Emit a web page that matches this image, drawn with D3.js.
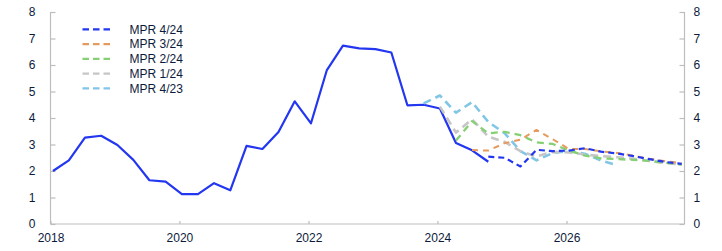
<!DOCTYPE html>
<html>
<head>
<meta charset="utf-8">
<script src="https://cdn.jsdelivr.net/npm/d3@7"></script>
<style>
  html, body { margin: 0; padding: 0; background: #fff; }
  svg { display: block; font-family: "Liberation Sans", Arial, sans-serif; }
</style>
</head>
<body>
<svg id="chart" width="722" height="251"></svg>
<script>
// ---- data ----
const actualStart = "2018Q1";
const actualValues = [
  2.0, 2.4, 3.26, 3.33,
  2.98, 2.42, 1.65, 1.6,
  1.13, 1.13, 1.54, 1.27,
  2.95, 2.83, 3.47, 4.63,
  3.8, 5.81, 6.73, 6.63,
  6.6, 6.47, 4.48, 4.5,
  4.36, 3.06, 2.78, 2.35
];
const mpr423Start = "2023Q4";
const mpr423Values = [4.55, 4.85, 4.2, 4.6, 3.85, 3.43, 2.75, 2.4, 2.68, 2.75, 2.65, 2.4, 2.22];
const mpr124Start = "2024Q1";
const mpr124Values = [4.43, 3.45, 3.95, 3.3, 3.1, 2.75, 2.55, 2.72, 2.7, 2.62, 2.56, 2.52, 2.46, 2.38, 2.3, 2.24];
const mpr224Start = "2024Q2";
const mpr224Values = [3.15, 3.88, 3.42, 3.48, 3.35, 3.08, 3.02, 2.77, 2.58, 2.48, 2.45, 2.42, 2.38, 2.31, 2.24];
const mpr324Start = "2024Q3";
const mpr324Values = [2.79, 2.77, 3.05, 3.18, 3.55, 3.2, 2.83, 2.83, 2.74, 2.68, 2.58, 2.46, 2.37, 2.29];
const mpr424Start = "2024Q4";
const mpr424Values = [2.54, 2.5, 2.17, 2.8, 2.75, 2.77, 2.86, 2.73, 2.66, 2.56, 2.45, 2.34, 2.27];

const legendLabels = ["MPR 4/24", "MPR 3/24", "MPR 2/24", "MPR 1/24", "MPR 4/23"];
const xTickYears = [2018, 2020, 2022, 2024, 2026];
const yTicks = [0, 1, 2, 3, 4, 5, 6, 7, 8];

// ---- layout ----
const svg = d3.select("#chart");
const mLeft = 50.5, mRight = 684.5, mTop = 12, mBottom = 224;
const textColor = "#0c1a3c";
const axisColor = "#bdbdbd";

const x = d3.scaleTime()
  .domain([new Date(2018, 0, 1), new Date(2027, 9, 31)])
  .range([mLeft, mRight]);
const y = d3.scaleLinear().domain([0, 8]).range([mBottom, mTop]);

function qDate(startLabel, i) {
  const yr = +startLabel.slice(0, 4);
  const q = +startLabel.slice(5) - 1 + i;
  return new Date(yr + Math.floor(q / 4), (q % 4) * 3, 15);
}
function toPoints(start, vals) {
  return vals.map((v, i) => ({ d: qDate(start, i), v }));
}

// axes
const axL = svg.append("g").attr("transform", `translate(${mLeft},0)`)
  .call(d3.axisLeft(y).tickValues(yTicks).tickSize(-5).tickPadding(15).tickFormat(d3.format("d")));
const axR = svg.append("g").attr("transform", `translate(${mRight},0)`)
  .call(d3.axisRight(y).tickValues(yTicks).tickSize(-5).tickPadding(9).tickFormat(d3.format("d")));
const axB = svg.append("g").attr("transform", `translate(0,${mBottom})`)
  .call(d3.axisBottom(x).tickValues(xTickYears.map(yr => new Date(yr, 0, 1))).tickSize(-3).tickPadding(9).tickFormat(d3.timeFormat("%Y")));

[axL, axR, axB].forEach(g => {
  g.select(".domain").attr("stroke", axisColor).attr("stroke-width", 1.2);
  g.selectAll(".tick line").attr("stroke", axisColor).attr("stroke-width", 1.2);
  g.selectAll(".tick text").attr("fill", textColor).attr("font-size", 12)
    .attr("font-family", "'Liberation Sans', Arial, sans-serif");
});
axL.select(".domain").attr("d", `M0,${mBottom}V${mTop}`);
axR.select(".domain").attr("d", `M0,${mBottom}V${mTop}`);
axB.select(".domain").attr("d", `M${mLeft},0H${mRight}`);

// lines
const line = d3.line().x(p => x(p.d)).y(p => y(p.v));

const series = [
  { start: actualStart, vals: actualValues, color: "#2336f0", dash: null, w: 2.2 },
  { start: mpr423Start, vals: mpr423Values, color: "#82c6e6", dash: "8,5", w: 2.6 },
  { start: mpr124Start, vals: mpr124Values, color: "#c6c6c6", dash: "8,5", w: 2.6 },
  { start: mpr224Start, vals: mpr224Values, color: "#86d073", dash: "7,5", w: 2.3 },
  { start: mpr324Start, vals: mpr324Values, color: "#e69a5c", dash: "6,5", w: 2.0 },
  { start: mpr424Start, vals: mpr424Values, color: "#2336f0", dash: "6,4", w: 2.2 }
];
series.forEach(s => {
  svg.append("path")
    .datum(toPoints(s.start, s.vals))
    .attr("fill", "none")
    .attr("stroke", s.color)
    .attr("stroke-width", s.w)
    .attr("stroke-linejoin", "round")
    .attr("stroke-dasharray", s.dash)
    .attr("d", line);
});

// legend
const legendColors = ["#2336f0", "#e69a5c", "#86d073", "#c6c6c6", "#82c6e6"];
const lg = svg.append("g");
legendLabels.forEach((lab, i) => {
  const yy = 29.3 + i * 14.75;
  lg.append("line").attr("x1", 82.5).attr("x2", 110).attr("y1", yy).attr("y2", yy)
    .attr("stroke", legendColors[i]).attr("stroke-width", 2.2).attr("stroke-dasharray", "6.5,4");
  lg.append("text").attr("x", 129.5).attr("y", yy).attr("dy", "0.35em")
    .attr("fill", textColor).attr("font-size", 12).text(lab);
});
</script>
</body>
</html>
